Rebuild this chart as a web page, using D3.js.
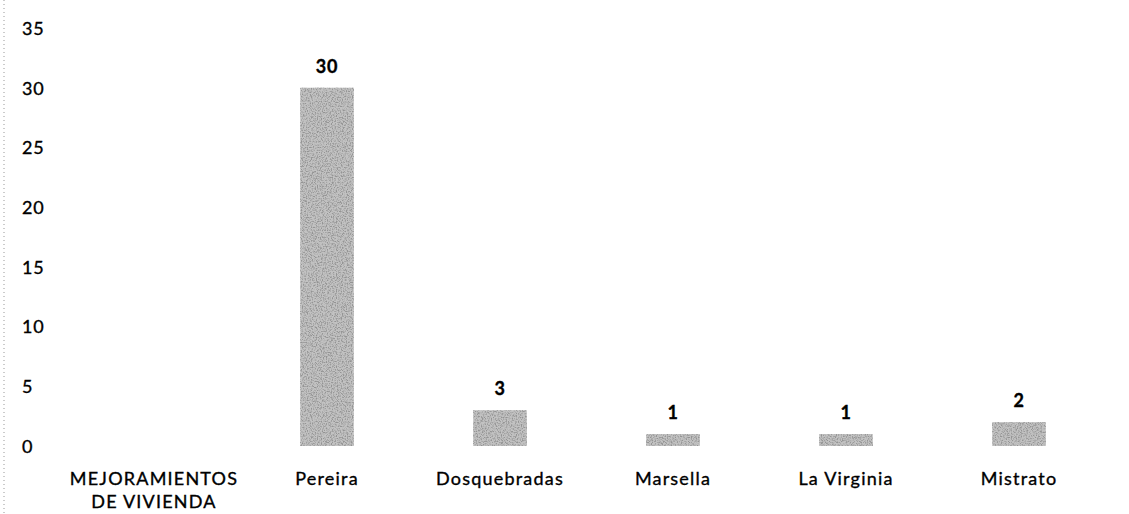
<!DOCTYPE html>
<html><head><meta charset="utf-8">
<script src="https://cdn.jsdelivr.net/npm/d3@7"></script>
<style>body{margin:0;background:#fff}svg{display:block}text{font-family:Lato,"Open Sans",sans-serif;fill:#000;stroke:#000;stroke-width:0.35px}</style>
</head><body>
<script>
const categories = ["MEJORAMIENTOS|DE VIVIENDA","Pereira","Dosquebradas","Marsella","La Virginia","Mistrato"];
const values = [null,30,3,1,1,2];
const yTicks = [0,5,10,15,20,25,30,35];

const W=1129,H=514;
const svg=d3.select("body").append("svg").attr("width",W).attr("height",H);
const defs=svg.append("defs");
const f=defs.append("filter").attr("id","grain").attr("x",0).attr("y",0).attr("width",1).attr("height",1);
f.append("feTurbulence").attr("type","fractalNoise").attr("baseFrequency",0.8).attr("numOctaves",2).attr("seed",3).attr("result","n");
f.append("feColorMatrix").attr("in","n").attr("type","matrix")
 .attr("values","0 0 0 0 0.3  0 0 0 0 0.3  0 0 0 0 0.3  3.5 0 0 0 -1.5").attr("result","c");
f.append("feComposite").attr("in","c").attr("in2","SourceGraphic").attr("operator","in").attr("result","t");
f.append("feMerge").call(m=>{m.append("feMergeNode").attr("in","SourceGraphic");m.append("feMergeNode").attr("in","t");});

svg.append("line").attr("x1",4).attr("x2",4).attr("y1",0).attr("y2",H)
 .attr("stroke","#999").attr("stroke-dasharray","1,3");

const x=d3.scaleBand().domain(categories).range([67.5,1105.5]).paddingInner(0.69).paddingOuter(0.345);
const y=d3.scaleLinear().domain([0,35]).range([446,28]);

const yAxis=svg.append("g").attr("transform","translate(22,0)")
 .call(d3.axisLeft(y).tickValues(yTicks).tickSize(0).tickPadding(0));
yAxis.select(".domain").remove();
yAxis.selectAll("text").attr("text-anchor","start").attr("font-size",18).attr("letter-spacing","0.8px")
 .attr("font-family","Lato").attr("fill","#000").attr("dy","0.35em");

const data=categories.map((c,i)=>({c,v:values[i]})).filter(d=>d.v!=null);
svg.selectAll("rect.bar").data(data).join("rect").attr("class","bar")
 .attr("x",d=>x(d.c)).attr("width",x.bandwidth())
 .attr("y",d=>y(d.v)).attr("height",d=>y(0)-y(d.v))
 .attr("fill","#c2c2c2").attr("filter","url(#grain)");

svg.selectAll("text.val").data(data).join("text").attr("class","val")
 .attr("x",d=>x(d.c)+x.bandwidth()/2).attr("y",d=>y(d.v)-15)
 .attr("text-anchor","middle").attr("font-size",18).attr("letter-spacing","0.8px").attr("font-weight",700).text(d=>d.v);

const xg=svg.append("g");
categories.forEach(c=>{
  const cx=x(c)+x.bandwidth()/2;
  const t=xg.append("text").attr("x",cx).attr("y",485).attr("text-anchor","middle")
   .attr("font-size",18).attr("letter-spacing","1.2px");
  c.split("|").forEach((s,i)=>t.append("tspan").attr("x",cx).attr("dy",i?23:0).text(s));
});
</script>
</body></html>
